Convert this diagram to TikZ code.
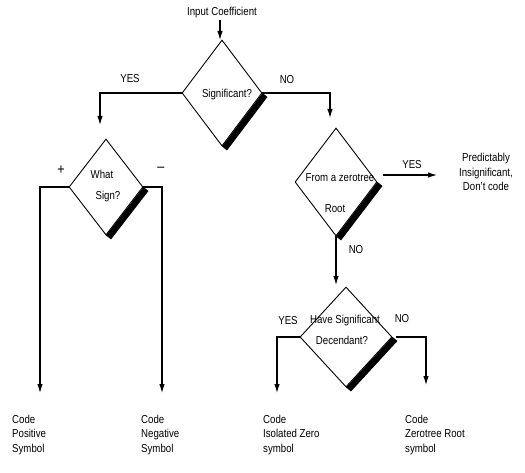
\documentclass[tikz,border=0pt]{standalone}
\usepackage{fontspec}
\setmainfont{Liberation Sans}[FakeStretch=0.84]
\usetikzlibrary{shapes.geometric,arrows.meta,calc}
\begin{document}
\begin{tikzpicture}[x=1pt,y=-1pt,
  font=\fontsize{11.5}{14.5}\selectfont,
  dia/.style={draw,diamond,inner sep=0pt,line width=0.9pt},
  arr/.style={line width=1.1pt,-{Latex[length=9pt,width=5.5pt]}},
  lbl/.style={inner sep=0pt},
  sgn/.style={inner sep=0pt,font=\fontsize{15}{15}\selectfont},
  blk/.style={inner sep=0pt,align=left,anchor=west},
  shd/.style={fill=black}]
\useasboundingbox (0,0) rectangle (525,473);

% diamonds
\node[dia,minimum width=80pt,minimum height=106pt] (d1) at (222,93) {};
\node[dia,minimum width=74pt,minimum height=96pt] (d2) at (106,187) {};
\node[dia,minimum width=82pt,minimum height=108pt] (d3) at (336,182) {};
\node[dia,minimum width=92pt,minimum height=100pt] (d4) at (346,337) {};

% shadows
\foreach \d in {d1,d2,d3,d4}{
  \fill[shd] (\d.east) -- ($(\d.east)+(5,4)$) -- ($(\d.south)+(5,4)$) -- (\d.south) -- cycle;
}

% texts
\node[lbl] (tin) at (222,13) {Input Coefficient};
\node[lbl] (t1) at (227,95) {Significant?};
\node[lbl] (t2a) at (102,174) {What};
\node[lbl] (t2b) at (108,197) {Sign?};
\node[lbl] (t3a) at (340,178) {From a zerotree};
\node[lbl] (t3b) at (335,209) {Root};
\node[lbl] (t4a) at (345,321) {Have Significant};
\node[lbl] (t4b) at (342,340) {Decendant?};

\node[lbl] (yes1) at (130,79) {YES};
\node[lbl] (no1) at (287,80) {NO};
\node[sgn] (plus) at (61,170) {+};
\node[sgn] (minus) at (161,169) {\textendash};
\node[lbl] (yes2) at (412,165) {YES};
\node[lbl] (no2) at (356,250) {NO};
\node[lbl] (yes3) at (288,321) {YES};
\node[lbl] (no3) at (402,319) {NO};

\node[inner sep=0pt,align=center] (pred) at (486,172) {Predictably\\Insignificant,\\Don't code};

\node[blk] (c1) at (12,435) {Code\\Positive\\Symbol};
\node[blk] (c2) at (141,435) {Code\\Negative\\Symbol};
\node[blk] (c3) at (263,435) {Code\\Isolated Zero\\symbol};
\node[blk] (c4) at (405,435) {Code\\Zerotree Root\\symbol};

% free ends
\coordinate (e0) at (220,40);
\coordinate (e2) at (100,125);
\coordinate (e3) at (330,118);
\coordinate (ep) at (40,393);
\coordinate (em) at (162,393);
\coordinate (ey) at (437,175);
\coordinate (en) at (336,285);
\coordinate (e4y) at (277,393);
\coordinate (e4n) at (426,385);

% connectors
\draw[arr] (220,20) -- (e0);
\draw[arr] (d1.west) -| (e2);
\draw[arr] (d1.east) -| (e3);
\draw[arr] (d2.west) -| (ep);
\draw[arr] (d2.east) -| (em);
\draw[arr] (d3.east |- ey) ++(6,0) -- (ey);
\draw[arr] (d3.south) -- (en);
\draw[arr] (d4.west) -| (e4y);
\draw[arr] (d4.east) ++(4,0) -| (e4n);
\end{tikzpicture}
\end{document}
